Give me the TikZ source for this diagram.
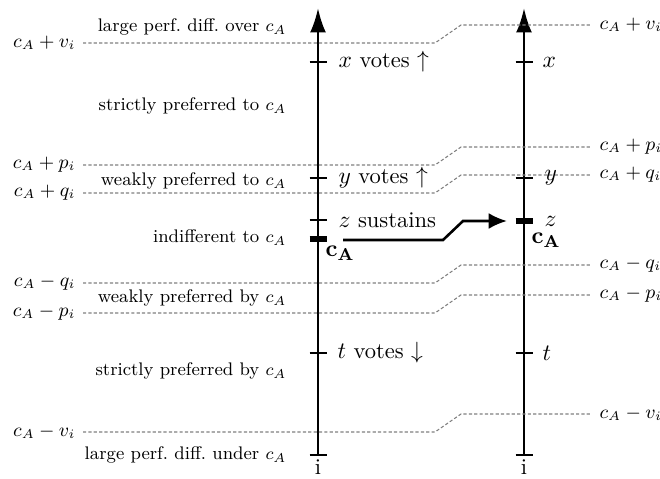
\documentclass[tikz,border=0pt]{standalone}
\usepackage{amsmath,amssymb}
\usepackage{tikz}
\usetikzlibrary{arrows.meta,positioning}

\begin{document}
\begin{tikzpicture}[
    x=0.01639cm, y=-0.01639cm,
    axis/.style={line width=1.2pt, -{Latex[length=4mm,width=2.6mm]}},
    tick/.style={line width=1.2pt},
    cmark/.style={line width=2.6pt},
    level/.style={gray, line width=0.5pt, dash pattern=on 1.5pt off 1pt},
    lvl/.style={font=\fontsize{8.8}{10}\selectfont},
    region/.style={anchor=east, font=\fontsize{8.5}{10}\selectfont},
    vote/.style={anchor=west, inner sep=1pt, font=\fontsize{10.5}{12}\selectfont},
    cbold/.style={font=\fontsize{11}{13}\selectfont},
    move/.style={-{Latex[length=3mm,width=2.6mm]}, line width=1.2pt},
]
\useasboundingbox (0,0) rectangle (660,479);
\foreach \xa/\nm in {318/L, 524/R}{
    \coordinate (bot\nm) at (\xa,455);
    \coordinate (top\nm) at (\xa,8);
    \draw[axis] (bot\nm) -- (top\nm);
    \foreach \yt in {62,178,353,455}
        \draw[tick] (\xa-8.5,\yt) -- (\xa+8.5,\yt);
    \node[vote, anchor=center] (i\nm) at (\xa,467) {i};
}
\draw[tick] (309.5,220) -- (326.5,220);
\draw[cmark] (309.5,239) -- (326.5,239);
\draw[cmark] (515.5,221) -- (532.5,221);
\foreach \nm/\sg/\yl in {vp/+v_i/43, pp/+p_i/165, qp/+q_i/193, qm/-q_i/283, pm/-p_i/313, vm/-v_i/432}{
    \node[lvl, anchor=east] (l\nm) at (83,\yl) {$c_A\sg$};
    \node[lvl, anchor=west] (r\nm) at (592,\yl-18) {$c_A\sg$};
    \draw[level] (l\nm) -- (435,\yl) -- (461,\yl-18) -- (r\nm);
}
\node[region] (over) at (294,27) {large perf.\ diff.\ over $c_A$};
\node[region] (strictTo) at (294,106) {strictly preferred to $c_A$};
\node[region] (weakTo) at (294,181) {weakly preferred to $c_A$};
\node[region] (indiff) at (294,238) {indifferent to $c_A$};
\node[region] (weakBy) at (294,298) {weakly preferred by $c_A$};
\node[region] (strictBy) at (294,371) {strictly preferred by $c_A$};
\node[region] (under) at (294,455) {large perf.\ diff.\ under $c_A$};
\node[vote] (xL) at (336,62) {$x$ votes $\uparrow$};
\node[vote] (yL) at (336,178) {$y$ votes $\uparrow$};
\node[vote] (zL) at (336,220) {$z$ sustains};
\node[vote] (tL) at (335,353) {$t$ votes $\downarrow$};
\node[cbold] (cAL) at (340,253) {$\mathbf{c_A}$};
\node[vote] (xR) at (540,62) {$x$};
\node[vote] (yR) at (542,178) {$y$};
\node[vote] (zR) at (542,221) {$z$};
\node[vote] (tR) at (540,353) {$t$};
\node[cbold] (cAR) at (546,240) {$\mathbf{c_A}$};
\coordinate (mvs) at (343,240);
\coordinate (mve) at (507,221);
\draw[move] (mvs) -- (443,240) -- (463,221) -- (mve);
\end{tikzpicture}
\end{document}
